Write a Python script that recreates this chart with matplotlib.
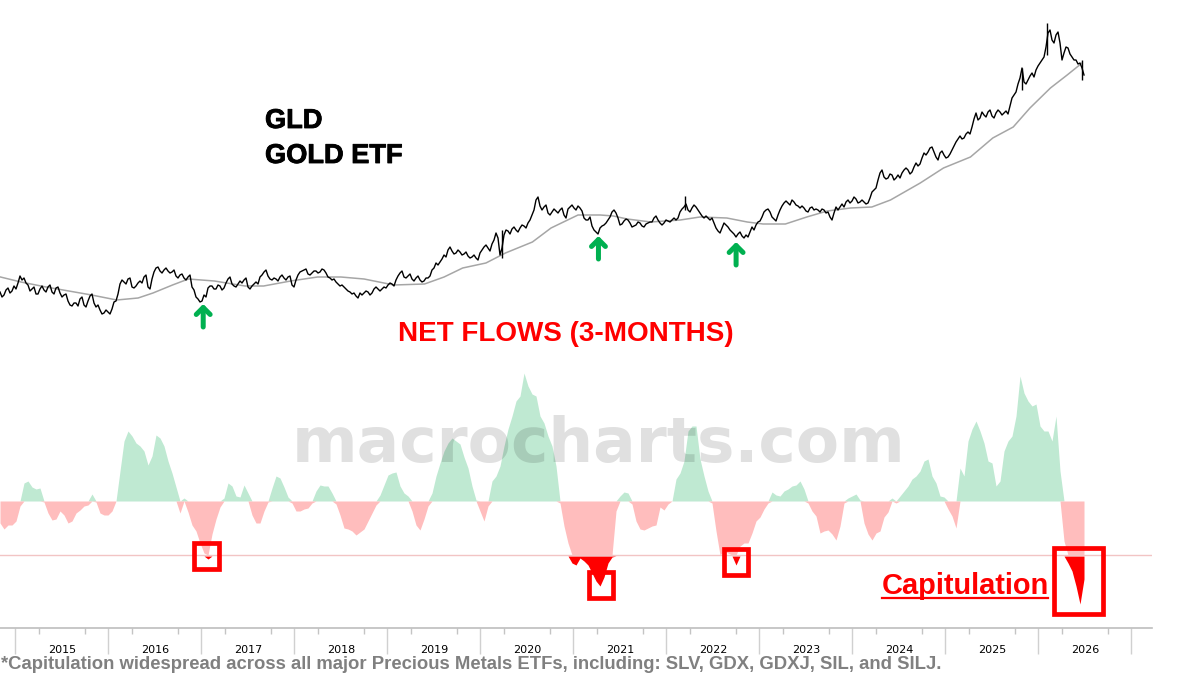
import numpy as np
import matplotlib
matplotlib.use('Agg')
import matplotlib.pyplot as plt
import matplotlib.patheffects as pe
from matplotlib.patches import Rectangle

plt.rcParams['font.family'] = ['Liberation Sans', 'DejaVu Sans']

start_year = 2014.835
end_year = 2026.491

# price level (chart units, no scale shown on the original)
price = [38,35,42,39,41,54,52,45,41,36,41,40,43,38,42,37,35,29,24,27,31,25,29,36,23,20,17,18,21,29,
         46,48,51,43,44,49,53,43,51,62,59,60,59,58,54,55,52,53,43,33,28,35,42,44,41,44,42,51,46,43,
         49,50,43,44,48,53,58,54,50,51,53,52,53,45,50,58,60,56,57,59,58,60,53,50,48,44,43,39,36,34,
         37,37,38,37,43,39,43,45,46,50,57,53,54,51,52,50,49,52,60,67,68,75,80,79,77,78,76,74,73,72,
         77,83,82,86,97,75,95,99,101,100,102,104,107,115,130,124,123,117,118,119,120,115,121,125,120,122,112,110,104,98,
         102,105,110,118,117,105,109,110,103,105,107,103,107,108,114,107,107,109,110,110,118,123,120,122,123,117,112,112,112,102,
         97,107,103,98,93,98,92,93,103,105,109,118,121,113,109,120,127,127,130,125,122,122,118,123,121,118,120,118,110,123,
         123,123,130,129,131,128,128,127,138,142,157,153,152,155,152,152,160,160,158,167,166,177,178,183,173,177,175,173,180,188,
         194,192,198,203,217,212,215,218,214,217,218,217,216,232,238,252,248,250,257,260,267,273,297,290,295,287,277,282,273,270,
         267,255]

# readings between the ones above
price_between = [33,40,37,44,47,50,47,39,43,36,44,38,45,36,43,33,36,25,27,24,33,23,34,27,25,16,20,16,28,36,
                 50,46,52,42,47,47,55,41,58,63,57,62,57,60,52,56,50,55,40,31,29,33,44,41,45,40,47,53,44,46,
                 47,52,41,46,46,55,60,51,52,49,55,50,54,43,55,59,61,55,59,57,61,57,52,51,46,45,41,38,37,32,
                 35,39,35,41,41,41,42,47,44,54,59,52,56,49,54,48,52,54,62,65,71,73,83,76,80,75,78,72,75,70,
                 80,85,79,90,92,82,100,96,103,98,105,102,110,120,133,120,125,115,121,117,122,112,123,122,124,119,110,113,100,96,
                 104,107,113,120,112,106,111,107,104,108,104,106,108,112,110,105,110,108,112,112,121,126,118,125,120,114,114,110,107,99,
                 102,105,100,96,96,94,95,98,100,108,113,120,118,111,115,124,129,125,128,124,124,119,122,120,120,121,117,113,117,120,
                 126,128,127,133,127,130,126,132,140,150,160,151,156,150,155,157,162,156,163,164,172,175,182,178,170,179,172,176,184,191,
                 191,196,196,211,210,218,213,220,212,220,215,219,224,235,246,262,246,254,253,264,270,283,300,287,298,270,283,276,270,266,
                 262]

spike_dates = [2020.23, 2022.20, 2025.82, 2026.09, 2026.47]
spike_low = [72, 120, 240, 275, 250]
spike_high = [100, 134, 262, 307, 270]

ma_dates = [2014.84,2015.06,2015.33,2015.82,2016.09,2016.32,2016.48,2016.69,2016.86,2017.14,2017.47,2017.67,2017.96,
            2018.25,2018.50,2018.75,2019.07,2019.40,2019.61,2019.81,2020.06,2020.27,2020.56,2020.76,2021.05,2021.29,
            2021.43,2021.58,2021.83,2022.15,2022.36,2022.65,2022.87,2023.04,2023.28,2023.51,2023.73,2023.98,2024.21,
            2024.41,2024.73,2024.98,2025.27,2025.51,2025.73,2025.91,2026.13,2026.31,2026.47]
ma_level = [53,48,43,35,30,32,37,45,51,49,44,44,49,53,53,51,45,46,53,62,67,77,88,102,115,115,
            114,111,108,110,113,112,108,106,106,113,119,122,123,130,147,162,173,192,203,222,242,255,267]

# 3-month net flows
flows = [-22,-28,-24,-24,-20,-5,18,20,14,12,13,-1,-12,-19,-18,-10,-14,-22,-20,-12,-9,-5,-4,7,-1,-12,-14,-14,-10,0,
         30,60,70,65,58,55,50,36,45,66,63,55,40,28,14,-12,3,-11,-24,-30,-42,-52,-58,-33,-18,-6,3,18,15,5,
         4,16,8,-14,-22,-22,-10,-1,13,25,23,14,4,-2,-10,-10,-8,-7,-2,10,16,15,15,8,-3,-14,-27,-28,-30,-34,
         -31,-28,-20,-12,-4,6,16,26,28,29,15,8,5,-10,-24,-29,-18,-5,8,25,38,50,58,63,60,57,44,33,15,1,
         -10,-20,-5,20,25,35,55,72,85,100,105,128,115,107,105,85,78,65,55,35,-2,-25,-42,-62,-64,-57,-60,-64,-72,-80,
         -85,-76,-62,-56,-10,5,9,8,-3,-20,-28,-29,-27,-25,-24,-6,-9,-3,0,22,28,40,70,75,75,42,25,10,-2,-30,
         -54,-50,-52,-55,-64,-45,-42,-42,-32,-20,-16,-8,-2,9,6,5,10,12,15,16,20,12,-2,-10,-15,-32,-30,-29,-33,-39,
         -25,-2,3,5,7,1,-22,-33,-39,-32,-30,-16,-11,3,-2,5,10,15,22,25,30,40,42,25,18,5,4,-8,-15,-27,
         33,25,60,72,80,70,58,40,38,15,20,50,60,65,85,125,108,100,95,97,75,70,70,60,85,30,-40,-62,-70,-85,
         -103,-78]

capitulation_level = -54

years = list(range(2015, 2027))

# box corners: year from, year to, flow from, flow to
boxes = [(2016.925, 2017.185, -67.7, -42.3),
         (2021.17, 2021.43, -96.7, -71.3),
         (2022.615, 2022.875, -73.7, -48.3),
         (2026.17, 2026.69, -112.7, -47.3)]

# buy arrows: year, tail level, tip level
arrows = [(2017.02, 3, 26),
          (2021.27, 71, 94),
          (2022.75, 65, 88)]

# merge the two price readings into one series
price_all = np.zeros(len(price) + len(price_between))
price_all[::2] = price
price_all[1::2] = price_between
flows = np.array(flows, dtype=float)
price_dates = np.linspace(start_year, end_year, len(price_all))
flow_dates = np.linspace(start_year, end_year, len(flows))

fig = plt.figure(figsize=(12, 6.75), dpi=100)
xlim = (start_year, start_year + 1152 / 93.0)

# top panel
ax1 = fig.add_axes([0, 1 - 330 / 675.0, 1152 / 1200.0, 330 / 675.0])
ax1.set_xlim(xlim)
ax1.set_ylim(0, 330)
ax1.axis('off')
ax1.plot(ma_dates, ma_level, color='#a6a6a6', lw=1.1)
ax1.plot(price_dates, price_all, color='black', lw=1.0)
ax1.vlines(spike_dates, spike_low, spike_high, color='black', lw=1.0)
for year, tail, tip in arrows:
    ax1.annotate('', xy=(year, tip), xytext=(year, tail),
                 arrowprops=dict(arrowstyle='->,head_length=0.5,head_width=0.5', color='#00b050',
                                 lw=3.6, shrinkA=0, shrinkB=0, capstyle='round', joinstyle='round'))

# bottom panel
ax2 = fig.add_axes([0, 1 - 628 / 675.0, 1152 / 1200.0, 298 / 675.0])
ax2.set_ylim(-127, 171)
ax2.patch.set_alpha(0)
for side in ['top', 'left', 'right']:
    ax2.spines[side].set_visible(False)
ax2.spines['bottom'].set_color('#bdbdbd')
ax2.spines['bottom'].set_linewidth(1.2)
ax2.set_yticks([])

ax2.fill_between(flow_dates, 0, np.maximum(flows, 0), color='#bfe9d2', lw=0)
ax2.fill_between(flow_dates, 0, np.maximum(np.minimum(flows, 0), capitulation_level),
                 color='#ffbdbd', lw=0)
ax2.fill_between(flow_dates, capitulation_level - 1, np.minimum(flows, capitulation_level - 1),
                 color='#ff0000', lw=0)
ax2.axhline(capitulation_level, color='#f2c4c4', lw=1, zorder=1)

for x0, x1, y0, y1 in boxes:
    ax2.add_patch(Rectangle((x0, y0), x1 - x0, y1 - y0, fill=False, ec='#ff0000', lw=3.4, joinstyle='miter'))

# axis, year separators and quarter ticks
ax2.set_xticks(years + [2027])
ax2.set_xticks([y + q for y in years for q in (0.25, 0.75)], minor=True)
ax2.set_xlim(xlim)
ax2.tick_params(axis='x', which='major', length=19, color='#d0d0d0', width=1, labelbottom=False)
ax2.tick_params(axis='x', which='minor', length=4, color='#c4c4c4', width=1)
for y in years:
    ax2.annotate(str(y), xy=(y + 0.5, 0), xycoords=('data', 'axes fraction'), xytext=(0, -15.8),
                 textcoords='offset points', ha='center', va='center', fontsize=8,
                 family='DejaVu Sans', annotation_clip=False)

# texts in figure pixels
def label(x, y, s, **kw):
    return fig.text(x / 1200.0, 1 - y / 675.0, s, fontweight='bold', va='center', **kw)

heavy = [pe.withStroke(linewidth=0.6, foreground='black')]
label(265, 121, 'GLD', fontsize=19.6, color='black', path_effects=heavy)
label(265, 156, 'GOLD ETF', fontsize=19.6, color='black', path_effects=heavy)
label(398.5, 334, 'NET FLOWS (3-MONTHS)', fontsize=20.1, color='#ff0000')
label(882, 586, 'Capitulation', fontsize=20.9, color='#ff0000')
fig.add_artist(plt.Line2D([882 / 1200.0, 1048 / 1200.0], [1 - 598 / 675.0] * 2, color='#ff0000', lw=1.6))
label(1, 664.5, '*Capitulation widespread across all major Precious Metals ETFs, including: SLV, GDX, GDXJ, SIL, and SILJ.',
      fontsize=13.3, color='#808080')
fig.text(599 / 1200.0, 1 - 462 / 675.0, 'macrocharts.com', fontsize=45.4, fontweight='bold',
         family='DejaVu Sans', color='black', alpha=0.12, ha='center', va='baseline')

fig.savefig('out.png', dpi=100)
